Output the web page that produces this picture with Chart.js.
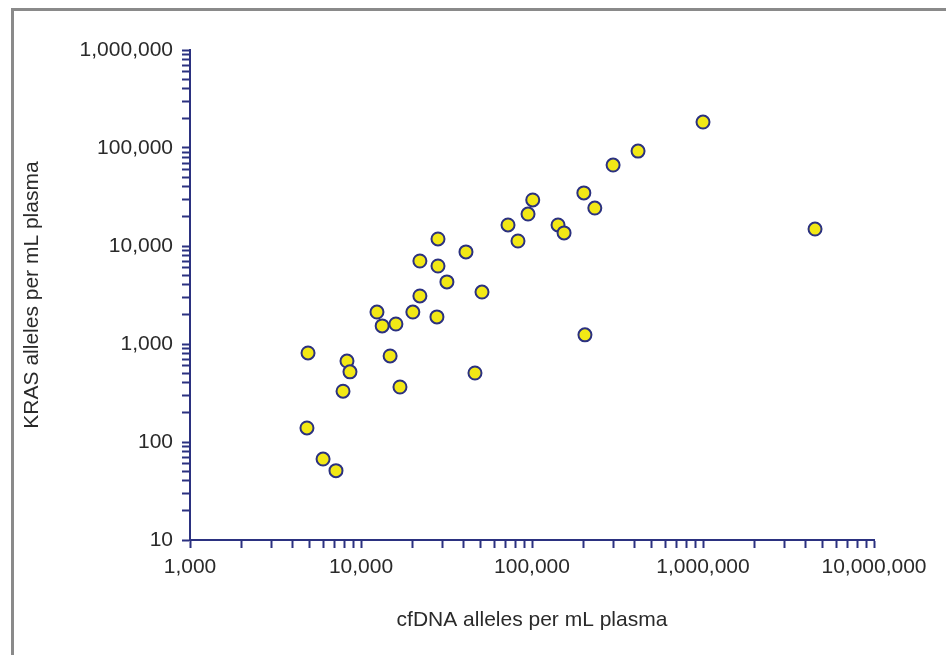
<!DOCTYPE html>
<html>
<head>
<meta charset="utf-8">
<script src="https://cdn.jsdelivr.net/npm/chart.js@4"></script>
<style>
  html, body { margin: 0; padding: 0; background: #fff; }
  #wrap { position: relative; width: 946px; height: 655px; }
</style>
</head>
<body>
<div id="wrap"><canvas id="scatterChart" width="946" height="655"></canvas></div>
<script>
// cfDNA alleles per mL plasma (x) vs KRAS alleles per mL plasma (y)
var cfdnaValues = [4900, 4830, 6000, 7140, 7850, 8280, 8620, 12400, 13300, 14800, 16000, 16900,
    20100, 22100, 22100, 27800, 28200, 28200, 31800, 41100, 46400, 51000, 72400, 82800,
    94800, 101000, 142000, 154000, 201000, 204000, 233000, 298000, 417000, 1000000, 4520000];
var krasValues = [810, 139, 67, 51, 330, 670, 520, 2120, 1530, 755, 1600, 364,
    2120, 3090, 7030, 1890, 6250, 11800, 4300, 8700, 506, 3390, 16400, 11250,
    21200, 29500, 16400, 13600, 34800, 1240, 24400, 67000, 93000, 184000, 14900];

var xMajorTicks = [1000, 10000, 100000, 1000000, 10000000];
var xTickLabels = ['1,000', '10,000', '100,000', '1,000,000', '10,000,000'];
var yMajorTicks = [10, 100, 1000, 10000, 100000, 1000000];
var yTickLabels = ['10', '100', '1,000', '10,000', '100,000', '1,000,000'];

var navy = '#2b3180';
var textColor = '#2a2a2a';
var fontFamily = 'Liberation Sans, Arial, sans-serif';

// major decades plus the 2..9 minor marks between them
function logTicks(majors) {
    var out = [];
    for (var i = 0; i < majors.length; i++) {
        out.push({value: majors[i]});
        if (i < majors.length - 1) {
            for (var m = 2; m <= 9; m++) {
                out.push({value: majors[i] * m});
            }
        }
    }
    return out;
}

function labelFor(majors, labels) {
    return function(value) {
        var idx = majors.indexOf(value);
        return idx >= 0 ? labels[idx] : '';
    };
}

var points = cfdnaValues.map(function(x, i) {
    return {x: x, y: krasValues[i]};
});

// grey frame along the top and left edge
var framePlugin = {
    id: 'frame',
    beforeDraw: function(chart) {
        var c = chart.ctx;
        c.save();
        c.fillStyle = '#8a8a8a';
        c.fillRect(11, 8, 3, chart.height - 8);
        c.fillRect(11, 8, chart.width - 11, 3);
        c.restore();
    }
};

var ctx = document.getElementById('scatterChart');
var chart = new Chart(ctx, {
    type: 'scatter',
    data: {
        datasets: [{
            data: points,
            backgroundColor: '#f2e816',
            borderColor: navy,
            borderWidth: 2,
            pointRadius: 6.5,
            pointHoverRadius: 6.5
        }]
    },
    options: {
        responsive: false,
        animation: false,
        layout: {
            padding: {left: 14, top: 50, right: 72, bottom: 0}
        },
        plugins: {
            legend: {display: false},
            tooltip: {enabled: false}
        },
        scales: {
            x: {
                type: 'logarithmic',
                position: 'bottom',
                min: 1000,
                max: 10000000,
                afterBuildTicks: function(scale) { scale.ticks = logTicks(xMajorTicks); },
                afterFit: function(scale) { scale.height = 115; },
                border: {display: true, color: navy, width: 2},
                grid: {
                    drawOnChartArea: false,
                    drawTicks: true,
                    tickLength: 8,
                    tickColor: navy,
                    tickWidth: 2,
                    color: navy
                },
                ticks: {
                    autoSkip: false,
                    maxRotation: 0,
                    padding: 7,
                    color: textColor,
                    font: {family: fontFamily, size: 21},
                    callback: labelFor(xMajorTicks, xTickLabels)
                },
                title: {
                    display: true,
                    text: 'cfDNA alleles per mL plasma',
                    color: textColor,
                    padding: {top: 0, bottom: 22},
                    font: {family: fontFamily, size: 21}
                }
            },
            y: {
                type: 'logarithmic',
                position: 'left',
                min: 10,
                max: 1000000,
                afterBuildTicks: function(scale) { scale.ticks = logTicks(yMajorTicks); },
                afterFit: function(scale) { scale.width = 176; },
                border: {display: true, color: navy, width: 2},
                grid: {
                    drawOnChartArea: false,
                    drawTicks: true,
                    tickLength: 8,
                    tickColor: navy,
                    tickWidth: 2,
                    color: navy
                },
                ticks: {
                    autoSkip: false,
                    padding: 9,
                    color: textColor,
                    font: {family: fontFamily, size: 21},
                    callback: labelFor(yMajorTicks, yTickLabels)
                },
                title: {
                    display: true,
                    text: 'KRAS alleles per mL plasma',
                    color: textColor,
                    padding: {top: 6, bottom: 0},
                    font: {family: fontFamily, size: 21}
                }
            }
        }
    },
    plugins: [framePlugin]
});
</script>
</body>
</html>
